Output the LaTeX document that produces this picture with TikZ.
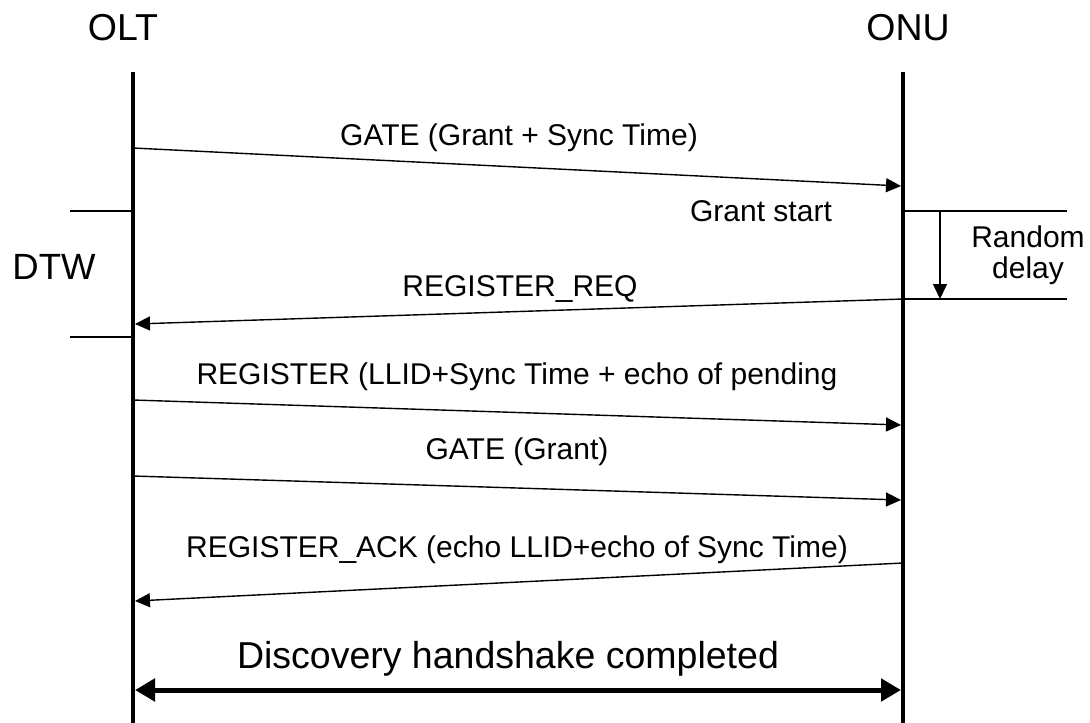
\documentclass[tikz,border=0pt]{standalone}
\usepackage{fontspec}
\setmainfont{Liberation Sans}
\usetikzlibrary{arrows.meta}

\begin{document}
\begin{tikzpicture}[x=1pt,y=-1pt,
  lifeline/.style={line width=4.5pt},
  msg/.style={line width=1.4pt,-{Triangle[length=15pt,width=14pt]}},
  tick/.style={line width=1.2pt},
  lbl/.style={inner sep=0pt,anchor=base,font=\fontsize{30}{32}\selectfont},
  big/.style={inner sep=0pt,anchor=base,font=\fontsize{37.5}{40}\selectfont},
  span/.style={line width=5pt,{Triangle[length=20pt,width=22pt]}-{Triangle[length=20pt,width=22pt]}}
]
\useasboundingbox (0,0) rectangle (1090,723);

% lifelines
\coordinate (oltTop) at (133,72);
\coordinate (oltBot) at (133,723);
\coordinate (onuTop) at (903,72);
\coordinate (onuBot) at (903,723);
\draw[lifeline] (oltTop) -- (oltBot);
\draw[lifeline] (onuTop) -- (onuBot);

% entity names
\node[big] (olt) at (123,40) {OLT};
\node[big] (onu) at (908,40) {ONU};

% message end points
\coordinate (g1a) at (133,148);
\coordinate (g1b) at (901,186);
\coordinate (rqa) at (903,299);
\coordinate (rqb) at (135,324);
\coordinate (rga) at (133,400);
\coordinate (rgb) at (901,425);
\coordinate (g2a) at (133,476);
\coordinate (g2b) at (901,500);
\coordinate (aka) at (903,563);
\coordinate (akb) at (135,601);

% messages
\draw[msg] (g1a) -- (g1b);
\draw[msg] (rqa) -- (rqb);
\draw[msg] (rga) -- (rgb);
\draw[msg] (g2a) -- (g2b);
\draw[msg] (aka) -- (akb);

\node[lbl] (lg1) at (519,145) {GATE (Grant + Sync Time)};
\node[lbl] (lgs) at (761,221) {Grant start};
\node[lbl] (lrq) at (520,296) {REGISTER\_REQ};
\node[lbl] (lrg) at (517,384) {REGISTER (LLID+Sync Time + echo of pending};
\node[lbl] (lg2) at (517,459) {GATE (Grant)};
\node[lbl] (lak) at (517,557) {REGISTER\_ACK (echo LLID+echo of Sync Time)};

% discovery time window
\coordinate (dwa) at (70,211);
\coordinate (dwb) at (133,211);
\coordinate (dwc) at (70,337);
\coordinate (dwd) at (133,337);
\draw[tick] (dwa) -- (dwb);
\draw[tick] (dwc) -- (dwd);
\node[big,font=\fontsize{36.5}{40}\selectfont] (dtw) at (54,279) {DTW};

% random delay
\coordinate (rda) at (903,211);
\coordinate (rdb) at (1067,211);
\coordinate (rdc) at (903,299);
\coordinate (rdd) at (1067,299);
\coordinate (rdt) at (940,211);
\coordinate (rdh) at (940,299);
\draw[tick] (rda) -- (rdb);
\draw[tick] (rdc) -- (rdd);
\draw[msg] (rdt) -- (rdh);
\node[inner sep=0pt,align=center,font=\fontsize{30}{31}\selectfont] (rnd) at (1028,255) {Random\\delay};

% handshake span
\coordinate (hsa) at (135,690);
\coordinate (hsb) at (901,690);
\draw[span] (hsa) -- (hsb);
\node[big] (hs) at (508,668) {Discovery handshake completed};
\end{tikzpicture}
\end{document}
